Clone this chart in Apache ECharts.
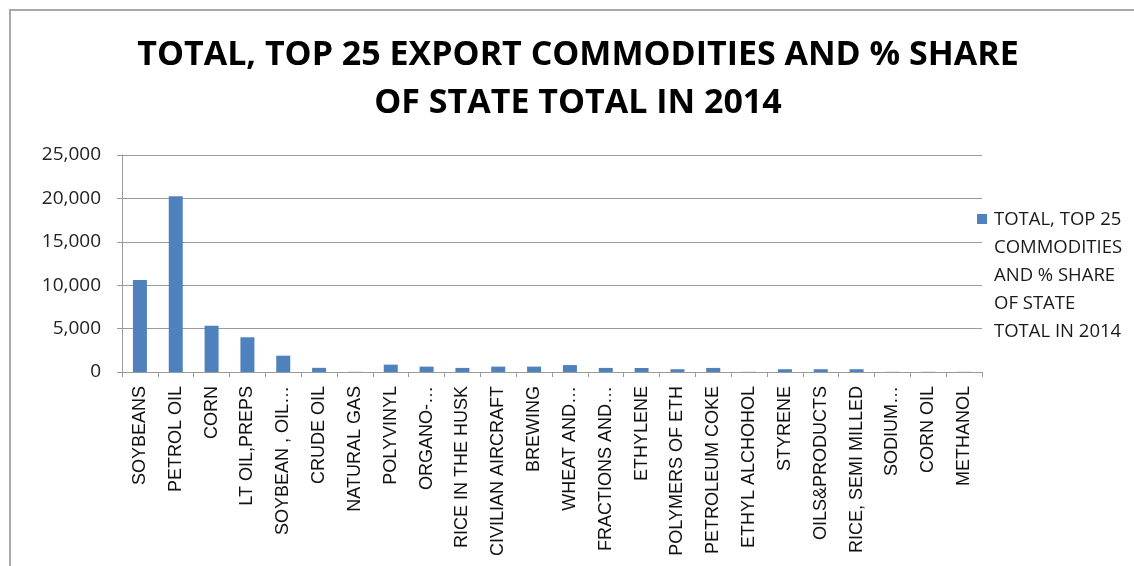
<!DOCTYPE html>
<html>
<head>
<meta charset="utf-8">
<script src="https://cdn.jsdelivr.net/npm/echarts@6/dist/echarts.min.js"></script>
<style>
  html, body { margin: 0; padding: 0; background: #ffffff; }
  #chart { width: 1134px; height: 566px; }
</style>
</head>
<body>
<div id="chart"></div>
<script>
// Top export commodities, 2014 (values in millions)
const categories = [
  'SOYBEANS', 'PETROL OIL', 'CORN', 'LT OIL,PREPS', 'SOYBEAN , OIL…',
  'CRUDE OIL', 'NATURAL GAS', 'POLYVINYL', 'ORGANO-…', 'RICE IN THE HUSK',
  'CIVILIAN AIRCRAFT', 'BREWING', 'WHEAT AND…', 'FRACTIONS AND…', 'ETHYLENE',
  'POLYMERS OF ETH', 'PETROLEUM COKE', 'ETHYL ALCHOHOL', 'STYRENE', 'OILS&PRODUCTS',
  'RICE, SEMI MILLED', 'SODIUM…', 'CORN OIL', 'METHANOL'
];
const totals = [
  10600, 20250, 5330, 4000, 1880,
  480, 20, 850, 620, 470,
  620, 620, 800, 470, 460,
  320, 470, 20, 320, 320,
  320, 20, 20, 20
];
const yTicks = { min: 0, max: 25000, interval: 5000 };
const seriesName = 'TOTAL, TOP 25 COMMODITIES AND % SHARE OF STATE TOTAL IN 2014';
const legendLines = ['TOTAL, TOP 25', 'COMMODITIES', 'AND % SHARE', 'OF STATE', 'TOTAL IN 2014'];
const barColor = '#4f81bd';

const chart = echarts.init(document.getElementById('chart'), null, { renderer: 'canvas' });

chart.setOption({
  backgroundColor: '#ffffff',
  animation: false,
  title: {
    text: 'TOTAL, TOP 25 EXPORT COMMODITIES AND % SHARE\nOF STATE TOTAL IN 2014',
    left: 573,
    textAlign: 'center',
    top: 26,
    textStyle: {
      fontFamily: 'Open Sans',
      fontWeight: 'bold',
      fontSize: 34,
      lineHeight: 48,
      color: '#000000'
    }
  },
  legend: { show: false },
  grid: {
    left: 122,
    right: 152,
    top: 155,
    bottom: 194,
    containLabel: false
  },
  xAxis: {
    type: 'category',
    data: categories,
    axisLine: { lineStyle: { color: '#9a9a9a', width: 1 } },
    axisTick: { show: true, length: 5, lineStyle: { color: '#9a9a9a' } },
    axisLabel: {
      rotate: 90,
      interval: 0,
      margin: 14,
      fontFamily: 'Liberation Sans',
      fontSize: 18,
      color: '#111111'
    }
  },
  yAxis: {
    type: 'value',
    min: yTicks.min,
    max: yTicks.max,
    interval: yTicks.interval,
    axisLine: { show: true, lineStyle: { color: '#9a9a9a', width: 1 } },
    axisTick: { show: true, length: 5, lineStyle: { color: '#9a9a9a' } },
    splitLine: { lineStyle: { color: '#9a9a9a', width: 1 } },
    axisLabel: {
      margin: 21,
      fontFamily: 'Open Sans',
      fontSize: 19,
      color: '#222222',
      formatter: v => v.toLocaleString('en-US')
    }
  },
  series: [{
    name: seriesName,
    type: 'bar',
    data: totals,
    barWidth: 14,
    itemStyle: { color: barColor }
  }],
  graphic: [
    {
      // outer frame (left and top edges)
      type: 'polyline',
      shape: { points: [[10, 566], [10, 10], [1134, 10]] },
      style: { stroke: '#a8a8a8', lineWidth: 2, fill: null }
    },
    {
      // series key, marker beside the first text line
      type: 'group',
      left: 977,
      top: 206,
      children: [
        {
          type: 'rect',
          shape: { x: 0, y: 8, width: 10, height: 10 },
          style: { fill: barColor }
        },
        {
          type: 'text',
          x: 17,
          y: 0,
          style: {
            text: legendLines.join('\n'),
            fontFamily: 'Open Sans',
            fontSize: 18.5,
            lineHeight: 28,
            fill: '#1a1a1a'
          }
        }
      ]
    }
  ]
});
</script>
</body>
</html>
